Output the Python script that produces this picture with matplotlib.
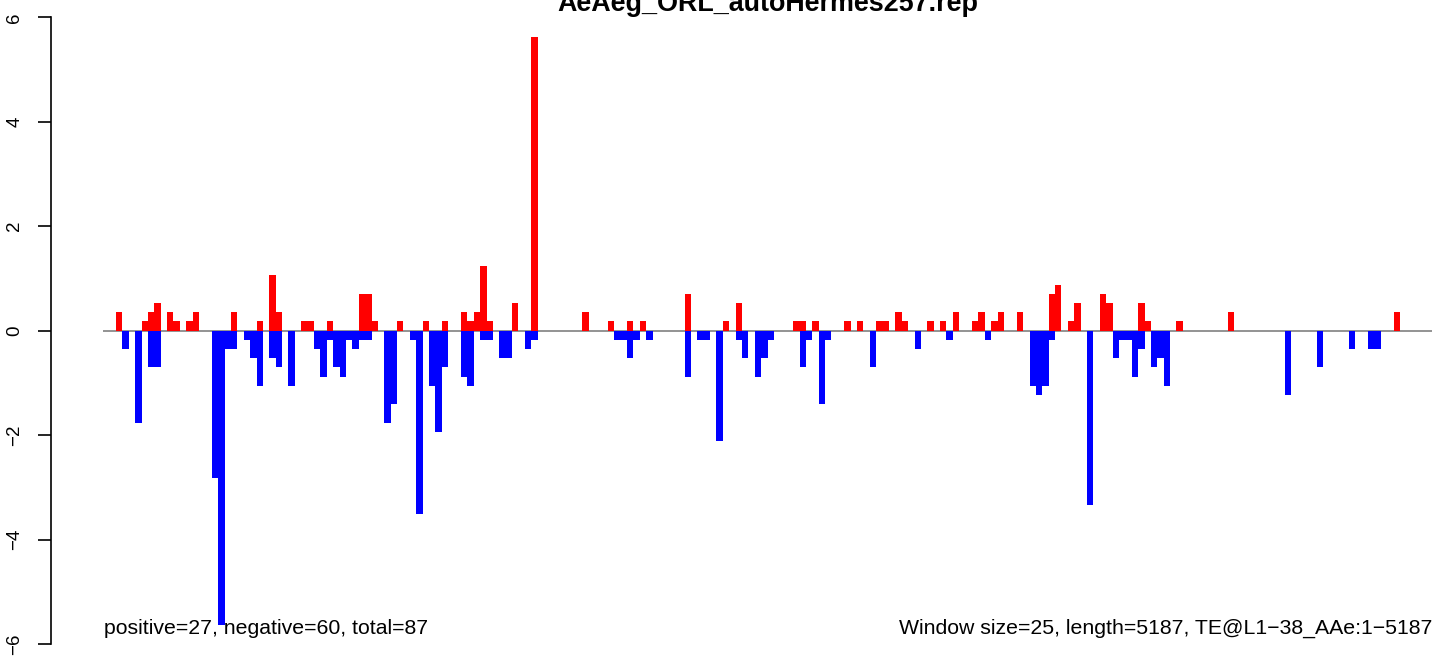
import matplotlib
matplotlib.use("Agg")
import matplotlib.pyplot as plt

plt.rcParams["font.family"] = ["Liberation Sans", "DejaVu Sans"]

title = "AeAeg_ORL_autoHermes257.rep"
left_note = "positive=27, negative=60, total=87"
right_note = "Window size=25, length=5187, TE@L1\u221238_AAe:1\u22125187"

n_windows = 208

# window index -> value
pos_bins = [2, 6, 7, 8, 10, 11, 13, 14, 20, 24, 26, 27, 31, 32, 35, 40, 41, 42,
            46, 50, 53, 56, 57, 58, 59, 60, 64, 67, 75, 79, 82, 84, 91, 97, 99,
            108, 109, 111, 116, 118, 121, 122, 124, 125, 129, 131, 133, 136, 137,
            139, 140, 143, 148, 149, 151, 152, 156, 157, 162, 163, 168, 176, 202]
pos_vals = [0.35, 0.18, 0.35, 0.53, 0.35, 0.18, 0.18, 0.35, 0.35, 0.18, 1.06, 0.35,
            0.18, 0.18, 0.18, 0.70, 0.70, 0.18, 0.18, 0.18, 0.18, 0.35, 0.18, 0.35,
            1.23, 0.18, 0.53, 5.63, 0.35, 0.18, 0.18, 0.18, 0.70, 0.18, 0.53, 0.18,
            0.18, 0.18, 0.18, 0.18, 0.18, 0.18, 0.35, 0.18, 0.18, 0.18, 0.35, 0.18,
            0.35, 0.18, 0.35, 0.35, 0.70, 0.88, 0.18, 0.53, 0.70, 0.53, 0.53, 0.18,
            0.18, 0.35, 0.35]

neg_bins = [3, 5, 7, 8, 17, 18, 19, 20, 22, 23, 24, 26, 27, 29, 33, 34, 35, 36, 37,
            38, 39, 40, 41, 44, 45, 48, 49, 51, 52, 53, 56, 57, 59, 60, 62, 63, 66,
            67, 80, 81, 82, 83, 85, 91, 93, 94, 96, 99, 100, 102, 103, 104, 109, 110,
            112, 113, 120, 127, 132, 138, 145, 146, 147, 148, 154, 158, 159, 160,
            161, 162, 164, 165, 166, 185, 190, 195, 198, 199]
neg_vals = [-0.35, -1.76, -0.70, -0.70, -2.82, -5.63, -0.35, -0.35, -0.18, -0.53,
            -1.06, -0.53, -0.70, -1.06, -0.35, -0.88, -0.18, -0.70, -0.88, -0.18,
            -0.35, -0.18, -0.18, -1.76, -1.41, -0.18, -3.52, -1.06, -1.94, -0.70,
            -0.88, -1.06, -0.18, -0.18, -0.53, -0.53, -0.35, -0.18, -0.18, -0.18,
            -0.53, -0.18, -0.18, -0.88, -0.18, -0.18, -2.11, -0.18, -0.53, -0.88,
            -0.53, -0.18, -0.70, -0.18, -1.41, -0.18, -0.70, -0.35, -0.18, -0.18,
            -1.06, -1.23, -1.06, -0.18, -3.34, -0.53, -0.18, -0.18, -0.88, -0.35,
            -0.70, -0.53, -1.06, -1.23, -0.70, -0.35, -0.35, -0.35]

W, H = 1444, 656
fig = plt.figure(figsize=(W / 100, H / 100), dpi=100)
ax = fig.add_axes([103.2 / W, 0, 1328.8 / W, 1])

ax.bar(pos_bins, pos_vals, width=1, align="edge", color="red", linewidth=0)
ax.bar(neg_bins, neg_vals, width=1, align="edge", color="blue", linewidth=0)
ax.axhline(0, color="#808080", lw=1.2, zorder=0)

ax.set_xlim(0, n_windows)
ax.set_ylim(-6.23, 6.332)

for s in ["top", "right", "bottom"]:
    ax.spines[s].set_visible(False)
ax.spines["left"].set_position(("axes", -0.0395))
ax.spines["left"].set_bounds(-6, 6)
ax.spines["left"].set_linewidth(1.2)
ax.set_xticks([])
ax.set_yticks([-6, -4, -2, 0, 2, 4, 6])
ax.tick_params(axis="y", length=9.6, width=1.2, pad=10, labelsize=13.5)
for lab in ax.get_yticklabels():
    lab.set_rotation(90)
    lab.set_va("center")

fig.text(767.6 / W, 1 - 11 / H, title, ha="center", va="baseline",
         fontsize=19.4, fontweight="bold")
fig.text(104 / W, 1 - 634 / H, left_note, ha="left", va="baseline", fontsize=15.3)
fig.text(1432 / W, 1 - 634 / H, right_note, ha="right", va="baseline", fontsize=15.3)

fig.savefig("out.png", dpi=100)
